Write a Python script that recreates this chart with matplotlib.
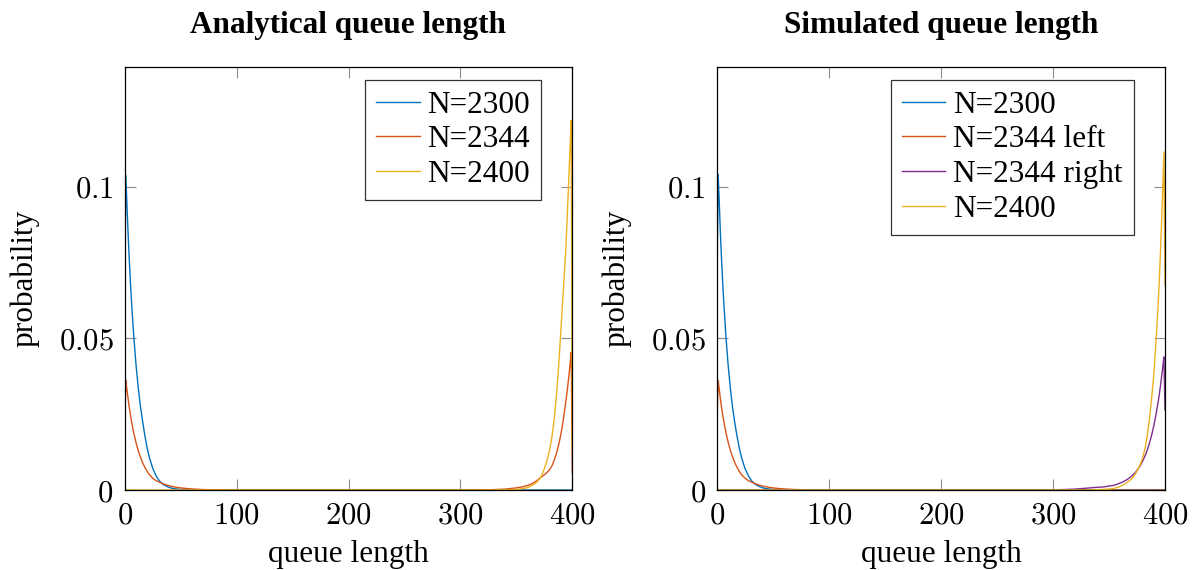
import matplotlib
matplotlib.use("Agg")
import matplotlib.pyplot as plt

# ---------------- data ----------------
titles = ["Analytical queue length", "Simulated queue length"]
x_label = "queue length"
y_label = "probability"
x_ticks = [0, 100, 200, 300, 400]
x_tick_labels = ["0", "100", "200", "300", "400"]
y_ticks = [0, 0.05, 0.1]
y_tick_labels = ["0", "0.05", "0.1"]

# Analytical
q_a2300 = [0, 1, 2, 3, 4, 5, 6, 8, 10, 12, 14, 16, 18, 20, 22, 25, 28, 31, 34, 38, 42, 46, 50, 60, 70, 80, 400]
p_a2300 = [0.068, 0.104, 0.094, 0.085, 0.0768, 0.0694, 0.0627, 0.0512, 0.0418, 0.0341, 0.0278, 0.0227, 0.0180,
           0.0140, 0.0108, 0.0072, 0.0047, 0.0030, 0.0019, 0.0011, 0.0006, 0.00035, 0.0002, 0.00005, 0.00001, 0, 0]

q_a2344 = [0, 1, 2, 3, 4, 5, 6, 8, 10, 12, 14, 16, 18, 20, 22, 25, 28, 31, 34, 38, 42, 46, 50, 55, 60, 70, 80, 90, 100,
           300, 310, 320, 330, 340, 345, 350, 355, 360, 364, 368, 372, 375, 378, 380, 382, 384, 386, 388, 390, 392,
           394, 395, 396, 397, 398, 399, 400]
p_a2344 = [0.022, 0.0363, 0.0331, 0.0302, 0.0275, 0.0251, 0.0229, 0.0190, 0.0158, 0.0131, 0.0109, 0.0090, 0.0075,
           0.0062, 0.0051, 0.0039, 0.0031, 0.0026, 0.0021, 0.0016, 0.0012, 0.0009, 0.0007, 0.0005, 0.00035, 0.00015,
           0.00006, 0.00002, 0,
           0, 0.00002, 0.00005, 0.00013, 0.0003, 0.0005, 0.0007, 0.0010, 0.0015, 0.0021, 0.0030, 0.0042, 0.0050,
           0.0060, 0.0069, 0.0081, 0.0100, 0.0123, 0.0152, 0.0188, 0.0232, 0.0286, 0.0314, 0.0345, 0.0378, 0.0415,
           0.0455, 0.0056]

q_a2400 = [0, 330, 340, 350, 355, 360, 364, 368, 372, 375, 378, 380, 382, 384, 386, 388, 390, 392, 394, 395, 396,
           397, 398, 399, 400]
p_a2400 = [0, 0, 0.00005, 0.0002, 0.0004, 0.0008, 0.0015, 0.0025, 0.0042, 0.0070, 0.0105, 0.0137, 0.0180, 0.0240,
           0.0320, 0.0420, 0.0540, 0.0660, 0.0780, 0.0860, 0.0950, 0.1040, 0.1130, 0.1220, 0.0130]

# Simulated
q_s2300 = [0, 1, 2, 3, 4, 5, 6, 8, 10, 12, 14, 16, 18, 20, 22, 25, 28, 31, 34, 38, 42, 46, 50, 60, 70, 80, 400]
p_s2300 = [0.068, 0.1043, 0.095, 0.085, 0.0765, 0.0690, 0.0622, 0.0505, 0.0410, 0.0333, 0.0270, 0.0219, 0.0175,
           0.0137, 0.0106, 0.0071, 0.0047, 0.0030, 0.0019, 0.0011, 0.0006, 0.00035, 0.0002, 0.00005, 0.00001, 0, 0]

q_s2344l = [0, 1, 2, 3, 4, 5, 6, 8, 10, 12, 14, 16, 18, 20, 22, 25, 28, 31, 34, 38, 42, 46, 50, 55, 60, 70, 80, 90,
            100, 400]
p_s2344l = [0.0225, 0.0362, 0.0332, 0.0301, 0.0274, 0.0250, 0.0228, 0.0189, 0.0157, 0.0130, 0.0108, 0.0089, 0.0074,
            0.0061, 0.0050, 0.0039, 0.0031, 0.0026, 0.0021, 0.0016, 0.0012, 0.0009, 0.0007, 0.0005, 0.00035,
            0.00015, 0.00006, 0.00002, 0, 0]

q_s2344r = [0, 290, 300, 310, 320, 330, 336, 340, 345, 350, 354, 358, 362, 366, 370, 372, 374, 376, 378, 380, 382,
            384, 386, 388, 390, 392, 394, 395, 396, 397, 398, 399, 400]
p_s2344r = [0, 0, 0.00005, 0.00015, 0.0003, 0.0006, 0.0008, 0.0009, 0.0010, 0.0013, 0.0015, 0.0020, 0.0026, 0.0034,
            0.0045, 0.0052, 0.0060, 0.0070, 0.0081, 0.0095, 0.0111, 0.0130, 0.0153, 0.0180, 0.0212, 0.0250, 0.0293,
            0.0318, 0.0345, 0.0375, 0.0405, 0.0440, 0.0264]

q_s2400 = [0, 330, 340, 350, 354, 358, 362, 366, 370, 372, 374, 376, 378, 380, 382, 384, 386, 388, 390, 392, 394,
           395, 396, 397, 398, 399, 400]
p_s2400 = [0, 0, 0.0001, 0.0003, 0.0005, 0.0009, 0.0015, 0.0024, 0.0036, 0.0045, 0.0056, 0.0070, 0.0085, 0.0105,
           0.0135, 0.0175, 0.0230, 0.0300, 0.0380, 0.0490, 0.0620, 0.0700, 0.0790, 0.0890, 0.1000, 0.1117, 0.0677]

analytic_series = [("N=2300", q_a2300, p_a2300, "#0072BD"),
                   ("N=2344", q_a2344, p_a2344, "#D95319"),
                   ("N=2400", q_a2400, p_a2400, "#EDB120")]
simulated_series = [("N=2300", q_s2300, p_s2300, "#0072BD"),
                    ("N=2344 left", q_s2344l, p_s2344l, "#D95319"),
                    ("N=2344 right", q_s2344r, p_s2344r, "#7E2F8E"),
                    ("N=2400", q_s2400, p_s2400, "#EDB120")]

# ---------------- style ----------------
plt.rcParams["mathtext.fontset"] = "cm"
plt.rcParams["font.family"] = ["Liberation Serif", "DejaVu Serif"]

W, H = 1196, 570
fig = plt.figure(figsize=(W / 100, H / 100), dpi=100)

def px_axes(x0, x1, ytop, ybot):
    return [x0 / W, (H - ybot) / H, (x1 - x0) / W, (ybot - ytop) / H]

ax_left = fig.add_axes(px_axes(124.7, 572.3, 66.7, 490))
ax_right = fig.add_axes(px_axes(717, 1165, 66.7, 490))

for ax, title, series in [(ax_left, titles[0], analytic_series),
                          (ax_right, titles[1], simulated_series)]:
    for label, q, p, c in series:
        ax.plot(q, p, color=c, lw=1.0, label=label, solid_joinstyle="miter")
    ax.set_xlim(0, 400)
    ax.set_ylim(0, 0.1397)
    ax.set_xticks(x_ticks, labels=[f"$\\mathrm{{{t}}}$" for t in x_tick_labels])
    ax.set_yticks(y_ticks, labels=[f"$\\mathrm{{{t}}}$" for t in y_tick_labels])
    ax.tick_params(direction="in", length=8, width=0.8, color="#8c8c8c",
                   top=True, right=True, labelsize=22, pad=8)
    for s in ax.spines.values():
        s.set_color("black")
        s.set_linewidth(0.9)
    ax.set_title(title, fontsize=22.5, fontweight="bold", pad=24)
    ax.set_xlabel(x_label, fontsize=22.5, labelpad=7)
    ax.set_ylabel(y_label, fontsize=22.5, labelpad=14)
    leg = ax.legend(loc="upper right", bbox_to_anchor=(0.93, 0.969), borderaxespad=0,
                    fontsize=22.5, handlelength=1.4, handletextpad=0.25, borderpad=0.35,
                    labelspacing=0.18, fancybox=False, framealpha=1)
    leg.get_frame().set_edgecolor("#333333")
    leg.get_frame().set_linewidth(0.9)

fig.savefig("out.png", dpi=100)
